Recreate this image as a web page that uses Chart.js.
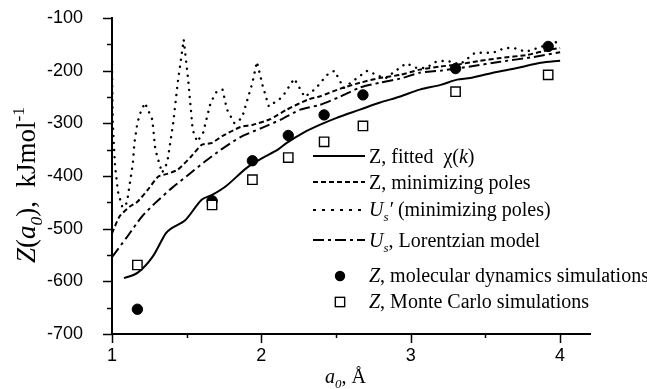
<!DOCTYPE html>
<html>
<head>
<meta charset="utf-8">
<script src="https://cdn.jsdelivr.net/npm/chart.js@4.4.1/dist/chart.umd.min.js"></script>
<style>
  html, body { margin: 0; padding: 0; background: #fff; }
</style>
</head>
<body>
<canvas id="zChart" width="647" height="389"></canvas>
<script>
// Z, fitted chi(k)  (solid)
const fitX = [1.08, 1.17, 1.27, 1.36, 1.40, 1.49, 1.60, 1.67, 1.76, 1.90, 2.00, 2.11, 2.17, 2.28, 2.39, 2.50, 2.66, 2.79, 2.93, 3.06, 3.20, 3.31, 3.40, 3.55, 3.71, 3.87, 4.00];
const fitY = [-594, -584, -554, -509, -499, -484, -445, -436, -420, -385, -367, -350, -337, -318, -303, -290, -274, -261, -249, -236, -227, -217, -214, -204, -195, -185, -181];

// Z, minimizing poles (dashed)
const polesX = [1.00, 1.05, 1.12, 1.17, 1.24, 1.31, 1.37, 1.44, 1.53, 1.60, 1.67, 1.74, 1.86, 1.94, 2.06, 2.17, 2.31, 2.39, 2.53, 2.66, 2.79, 2.93, 3.06, 3.20, 3.30, 3.45, 3.60, 3.78, 3.93, 4.00];
const polesY = [-509, -477, -458, -449, -426, -401, -396, -388, -363, -341, -337, -324, -307, -303, -292, -274, -255, -249, -234, -223, -214, -208, -198, -192, -189, -182, -176, -170, -160, -157];

// Us' (minimizing poles) (dotted)
const usPX = [1.00, 1.005, 1.02, 1.04, 1.07, 1.10, 1.12, 1.14, 1.15, 1.17, 1.19, 1.22, 1.27, 1.29, 1.335, 1.37, 1.41, 1.44, 1.48, 1.51, 1.54, 1.57, 1.61, 1.66, 1.70, 1.74, 1.77, 1.82, 1.87, 1.94, 1.97, 2.01, 2.05, 2.14, 2.22, 2.29, 2.36, 2.44, 2.49, 2.55, 2.64, 2.71, 2.77, 2.83, 2.90, 2.97, 3.04, 3.10, 3.17, 3.24, 3.33, 3.43, 3.55, 3.63, 3.69, 3.77, 3.85, 3.95, 4.00];
const usPY = [-189, -300, -380, -430, -460, -451, -413, -375, -337, -299, -280, -261, -293, -350, -394, -375, -299, -223, -141, -217, -312, -335, -318, -261, -240, -236, -274, -300, -290, -223, -183, -230, -268, -250, -215, -250, -235, -208, -200, -233, -214, -200, -208, -215, -200, -186, -195, -195, -183, -181, -188, -166, -166, -157, -157, -164, -157, -147, -145];

// Us, Lorentzian model (dash-dot)
const lorX = [1.00, 1.10, 1.20, 1.29, 1.40, 1.51, 1.62, 1.73, 1.86, 2.00, 2.13, 2.26, 2.39, 2.53, 2.66, 2.79, 2.93, 3.06, 3.20, 3.40, 3.60, 3.80, 4.00];
const lorY = [-554, -516, -477, -451, -423, -398, -373, -350, -326, -309, -293, -274, -265, -249, -232, -223, -215, -204, -200, -192, -183, -175, -165];

// simulations
const simX = [1.17, 1.67, 1.94, 2.18, 2.42, 2.68, 3.30, 3.92];
const mdY = [-653, -447, -371, -323, -284, -246, -196, -154];
const mcY = [-569, -455, -407, -365, -335, -305, -240, -208];

const xTicks = [1, 2, 3, 4];

const toXY = (xs, ys) => xs.map((x, i) => ({ x: x, y: ys[i] }));

const SERIF = '"Liberation Serif", "Times New Roman", serif';

function drawRich(ctx, x, y, parts, size) {
  let cx = x;
  parts.forEach(p => {
    const txt = p[0];
    const st = p[1] || {};
    const fs = (st.sub || st.sup) ? size * 0.65 : size;
    ctx.font = (st.i ? 'italic ' : '') + fs + 'px ' + SERIF;
    let dy = 0;
    if (st.sub) dy = size * 0.25;
    if (st.sup) dy = -size * 0.42;
    ctx.fillText(txt, cx, y + dy);
    cx += ctx.measureText(txt).width;
  });
  return cx - x;
}

function measureRich(ctx, parts, size) {
  let w = 0;
  parts.forEach(p => {
    const st = p[1] || {};
    const fs = (st.sub || st.sup) ? size * 0.65 : size;
    ctx.font = (st.i ? 'italic ' : '') + fs + 'px ' + SERIF;
    w += ctx.measureText(p[0]).width;
  });
  return w;
}

const legendRows = [
  { ds: 0, y: 156, base: 163, parts: [['Z'], [', fitted  \u03c7('], ['k', { i: true }], [')']] },
  { ds: 1, y: 182, base: 189, parts: [['Z'], [', minimizing poles']] },
  { ds: 2, y: 210, base: 216, dash: [3, 6], parts: [['U', { i: true }], ['s', { i: true, sub: true }], ['\u2032', { i: true }], [' (minimizing poles)']] },
  { ds: 3, y: 240, base: 247, parts: [['U', { i: true }], ['s', { i: true, sub: true }], [', Lorentzian model']] },
  { ds: 4, y: 276, base: 282, parts: [['Z', { i: true }], [', molecular dynamics simulations']] },
  { ds: 5, y: 302, base: 308, parts: [['Z', { i: true }], [', Monte Carlo simulations']] }
];

const decorPlugin = {
  id: 'decor',
  afterDraw(chart) {
    const ctx = chart.ctx;
    const xs = chart.scales.x, ys = chart.scales.y;
    const area = chart.chartArea;
    ctx.save();
    ctx.strokeStyle = '#000';
    ctx.fillStyle = '#000';
    ctx.lineWidth = 1.5;
    // tick marks: major at labels, minor halfway
    for (let v = -700; v <= -100; v += 50) {
      const py = Math.round(ys.getPixelForValue(v)) + 0.5;
      const len = v % 100 === 0 ? 9 : 5;
      ctx.beginPath();
      ctx.moveTo(area.left - len, py);
      ctx.lineTo(area.left, py);
      ctx.stroke();
    }
    for (let v = 1; v <= 4; v += 0.5) {
      const px = Math.round(xs.getPixelForValue(v)) + 0.5;
      const len = Number.isInteger(v) ? 9 : 4;
      ctx.beginPath();
      ctx.moveTo(px, area.bottom);
      ctx.lineTo(px, area.bottom + len);
      ctx.stroke();
    }

    // legend
    ctx.textBaseline = 'alphabetic';
    ctx.textAlign = 'left';
    legendRows.forEach(r => {
      const ds = chart.data.datasets[r.ds];
      if (ds.showLine === false) {
        const style = ds.pointStyle;
        ctx.setLineDash([]);
        ctx.lineWidth = ds.pointBorderWidth;
        ctx.fillStyle = ds.pointBackgroundColor;
        ctx.strokeStyle = '#000';
        if (style === 'rect') {
          const s = ds.pointRadius / Math.SQRT2;
          ctx.fillRect(340 - s, r.y - s, 2 * s, 2 * s);
          ctx.strokeRect(340 - s, r.y - s, 2 * s, 2 * s);
        } else {
          ctx.beginPath();
          ctx.arc(340, r.y, ds.pointRadius, 0, Math.PI * 2);
          ctx.fill();
        }
      } else {
        ctx.strokeStyle = '#000';
        ctx.lineWidth = 2;
        ctx.lineCap = 'butt';
        ctx.setLineDash(r.dash || ds.borderDash || []);
        ctx.beginPath();
        ctx.moveTo(313, r.y);
        ctx.lineTo(365, r.y);
        ctx.stroke();
      }
      ctx.setLineDash([]);
      ctx.fillStyle = '#000';
      drawRich(ctx, 369, r.base, r.parts, 20);
    });

    // x axis title
    drawRich(ctx, 325, 383, [['a', { i: true }], ['0', { i: true, sub: true }], [', \u00c5']], 20);

    // y axis title (rotated)
    const yParts = [['Z', { i: true }], ['('], ['a', { i: true }], ['0', { i: true, sub: true }], ['),  kJmol'], ['-1', { sup: true }]];
    const w = measureRich(ctx, yParts, 27);
    ctx.translate(35, 185);
    ctx.rotate(-Math.PI / 2);
    drawRich(ctx, -w / 2, 0, yParts, 27);
    ctx.restore();
  }
};

new Chart(document.getElementById('zChart'), {
  type: 'line',
  data: {
    datasets: [
      {
        label: 'Z, fitted chi(k)',
        data: toXY(fitX, fitY),
        borderColor: '#000',
        borderWidth: 2,
        pointRadius: 0,
        tension: 0.3,
        order: 2
      },
      {
        label: 'Z, minimizing poles',
        data: toXY(polesX, polesY),
        borderColor: '#000',
        borderWidth: 2,
        borderDash: [5, 3],
        pointRadius: 0,
        tension: 0.2,
        order: 2
      },
      {
        label: "Us' (minimizing poles)",
        data: toXY(usPX, usPY),
        borderColor: '#000',
        borderWidth: 2.4,
        borderDash: [0.1, 7],
        borderCapStyle: 'round',
        pointRadius: 0,
        tension: 0,
        order: 2
      },
      {
        label: 'Us, Lorentzian model',
        data: toXY(lorX, lorY),
        borderColor: '#000',
        borderWidth: 2,
        borderDash: [11, 4, 3, 4],
        pointRadius: 0,
        tension: 0.2,
        order: 2
      },
      {
        label: 'Z, molecular dynamics simulations',
        data: toXY(simX, mdY),
        showLine: false,
        pointStyle: 'circle',
        pointRadius: 5.2,
        pointBackgroundColor: '#000',
        pointBorderColor: '#000',
        pointBorderWidth: 1,
        order: 1
      },
      {
        label: 'Z, Monte Carlo simulations',
        data: toXY(simX, mcY),
        showLine: false,
        pointStyle: 'rect',
        pointRadius: 6.6,
        pointBackgroundColor: '#fff',
        pointBorderColor: '#000',
        pointBorderWidth: 1.4,
        order: 0
      }
    ]
  },
  options: {
    responsive: false,
    animation: false,
    events: [],
    layout: { padding: { top: 18, right: 57, left: 0, bottom: 0 } },
    plugins: {
      legend: { display: false },
      tooltip: { enabled: false }
    },
    scales: {
      x: {
        type: 'linear',
        min: 1,
        max: 4.2,
        afterFit: s => { s.height = 55; s.paddingLeft = 0; s.paddingRight = 0; },
        afterBuildTicks: s => { s.ticks = xTicks.map(v => ({ value: v })); },
        grid: { display: true, drawOnChartArea: false, drawTicks: false },
        border: { display: true, color: '#000', width: 2 },
        ticks: {
          padding: 11,
          color: '#000',
          font: { family: '"Liberation Sans", Arial, sans-serif', size: 18 }
        }
      },
      y: {
        min: -700,
        max: -100,
        afterFit: s => { s.width = 112; s.paddingTop = 0; s.paddingBottom = 0; },
        grid: { display: true, drawOnChartArea: false, drawTicks: false },
        border: { display: true, color: '#000', width: 2 },
        ticks: {
          stepSize: 100,
          padding: 29,
          color: '#000',
          font: { family: '"Liberation Sans", Arial, sans-serif', size: 18 }
        }
      }
    }
  },
  plugins: [decorPlugin]
});
</script>
</body>
</html>
